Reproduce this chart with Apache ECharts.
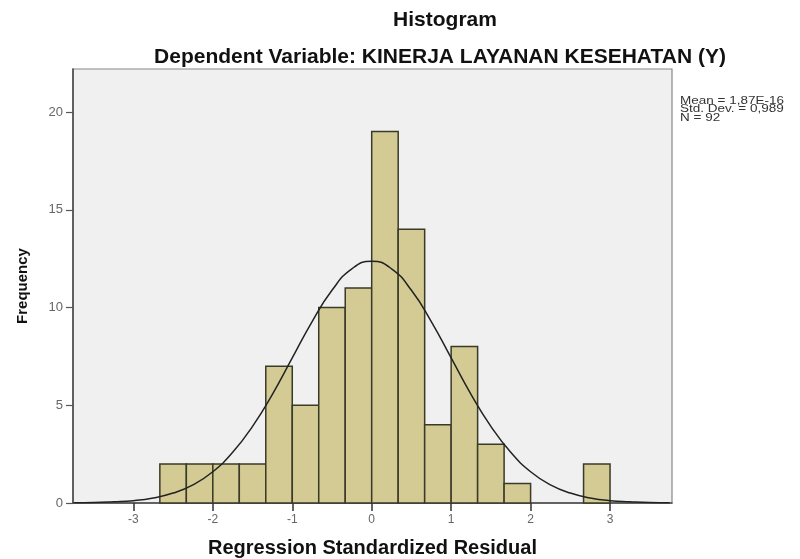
<!DOCTYPE html>
<html>
<head>
<meta charset="utf-8">
<script src="https://cdn.jsdelivr.net/npm/echarts@6/dist/echarts.min.js"></script>
<style>html,body{margin:0;padding:0;background:#fff}#c{width:800px;height:559px}</style>
</head>
<body>
<div id="c"></div>
<script>
// Histogram bins (lower edge, upper edge) and frequencies
var binLow  = [-2.6667, -2.3333, -2.0, -1.6667, -1.3333, -1.0, -0.6667, -0.3333, 0.0, 0.3333, 0.6667, 1.0, 1.3333, 1.6667, 2.6667];
var binHigh = [-2.3333, -2.0, -1.6667, -1.3333, -1.0, -0.6667, -0.3333, 0.0, 0.3333, 0.6667, 1.0, 1.3333, 1.6667, 2.0, 3.0];
var counts  = [2, 2, 2, 2, 7, 5, 10, 11, 19, 14, 4, 8, 3, 1, 2];

// Normal curve
var curveX = [-3.75,-3.5,-3.25,-3,-2.75,-2.5,-2.25,-2,-1.75,-1.5,-1.25,-1,-0.75,-0.5,-0.25,0,0.25,0.5,0.75,1,1.25,1.5,1.75,2,2.25,2.5,2.75,3,3.25,3.5,3.75];
var curveY = [0.01,0.02,0.06,0.12,0.26,0.51,0.93,1.60,2.59,3.92,5.56,7.42,9.28,10.88,11.98,12.37,11.98,10.88,9.28,7.42,5.56,3.92,2.59,1.60,0.93,0.51,0.26,0.12,0.06,0.02,0.01];

var xTicks = [-3, -2, -1, 0, 1, 2, 3];
var yTicks = [0, 5, 10, 15, 20];

var titleText = 'Histogram';
var subtitleText = 'Dependent Variable: KINERJA LAYANAN KESEHATAN (Y)';
var statsText = ['Mean = 1,87E-16', 'Std. Dev. = 0,989', 'N = 92'];
var xName = 'Regression Standardized Residual';
var yName = 'Frequency';

var barData = binLow.map(function (lo, i) { return [lo, binHigh[i], counts[i]]; });
var curveData = curveX.map(function (x, i) { return [x, curveY[i]]; });

var FONT = "'Liberation Sans', Arial, sans-serif";
var chart = echarts.init(document.getElementById('c'), null, {renderer: 'canvas'});
chart.setOption({
  backgroundColor: '#ffffff',
  animation: false,
  title: [
    {text: titleText, left: 440, top: 5, textAlign: 'center',
     textStyle: {fontFamily: FONT, fontSize: 21, fontWeight: 'bold', color: '#111'}},
    {text: subtitleText, left: 435, top: 42, textAlign: 'center',
     textStyle: {fontFamily: FONT, fontSize: 21, fontWeight: 'bold', color: '#111'}}
  ],
  graphic: [{
    type: 'text', left: 680, top: 96, scaleX: 1.35,
    style: {text: statsText.join('\n'), fontFamily: 'Liberation Sans', fontSize: 10, fill: '#333', lineHeight: 8.5}
  }],
  grid: {left: 73, top: 69, right: 128, bottom: 56, show: true, outerBoundsMode: 'none', containLabel: false,
         backgroundColor: '#f0f0f0', borderColor: '#888', borderWidth: 1.2},
  xAxis: {
    type: 'value', min: -3.76, max: 3.78,
    name: xName, nameLocation: 'middle', nameGap: 35,
    nameTextStyle: {fontFamily: FONT, fontSize: 20, fontWeight: 'bold', color: '#111'},
    axisLine: {show: true, onZero: false, lineStyle: {color: '#444', width: 1.5}},
    axisTick: {show: true, length: 8, customValues: xTicks, lineStyle: {color: '#333', width: 1.5}},
    axisLabel: {customValues: xTicks, margin: 11, fontFamily: FONT, fontSize: 12, color: '#666'},
    splitLine: {show: false}
  },
  yAxis: {
    type: 'value', min: 0, max: 22.2,
    name: yName, nameLocation: 'middle', nameGap: 43, nameRotate: 90,
    nameTextStyle: {fontFamily: FONT, fontSize: 15, fontWeight: 'bold', color: '#111'},
    axisLine: {show: true, onZero: false, lineStyle: {color: '#444', width: 1.5}},
    axisTick: {show: true, length: 7, customValues: yTicks, lineStyle: {color: '#555', width: 1.2}},
    axisLabel: {customValues: yTicks, margin: 10, fontFamily: FONT, fontSize: 13, color: '#666'},
    splitLine: {show: false}
  },
  series: [
    {
      type: 'custom',
      data: barData,
      encode: {x: [0, 1], y: 2},
      renderItem: function (params, api) {
        var p0 = api.coord([api.value(0), 0]);
        var p1 = api.coord([api.value(1), api.value(2)]);
        return {
          type: 'rect',
          shape: {x: p0[0], y: p1[1], width: p1[0] - p0[0], height: p0[1] - p1[1]},
          style: {fill: '#d3cb93', stroke: '#3a3a28', lineWidth: 1.5}
        };
      },
      z: 2
    },
    {
      type: 'line', data: curveData, smooth: true, showSymbol: false, symbol: 'none',
      lineStyle: {color: '#222', width: 1.5}, z: 3, clip: true
    }
  ]
});
</script>
</body>
</html>
